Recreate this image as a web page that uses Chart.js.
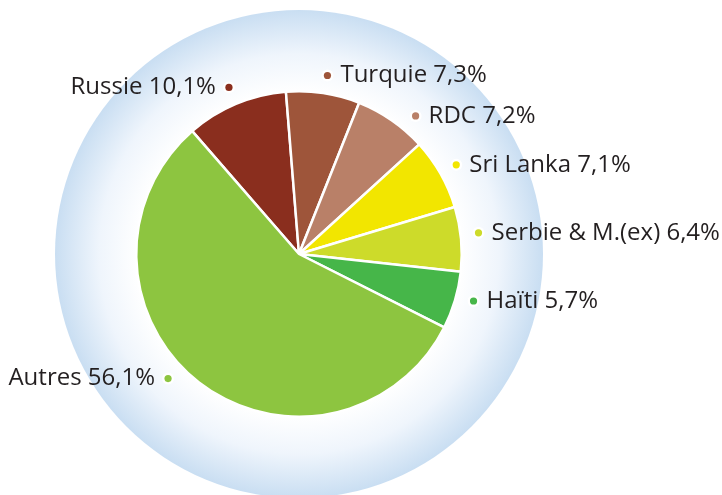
<!DOCTYPE html>
<html><head><meta charset="utf-8">
<script src="https://cdn.jsdelivr.net/npm/chart.js@4"></script>
<style>html,body{margin:0;padding:0;background:#fff}#wrap{width:722px;height:495px}</style>
</head><body><div id="wrap"><canvas id="c" width="722" height="495"></canvas></div>
<script>
const categories = ["Russie", "Turquie", "RDC", "Sri Lanka", "Serbie & M.(ex)", "Haïti", "Autres"];
const shares = [10.1, 7.3, 7.2, 7.1, 6.4, 5.7, 56.1];
const valueLabels = ["10,1%", "7,3%", "7,2%", "7,1%", "6,4%", "5,7%", "56,1%"];
const sliceColors = ["#8a2e1e", "#9e553a", "#b98068", "#f2e600", "#cddb2a", "#46b649", "#8dc540"];
const labelNudgeDeg = [0, 0.5, 5.5, 0, -1.5, -1.5, 8.5];

const FONT = '"Open Sans", "Noto Sans", sans-serif';

const backdrop = {
  id: 'backdrop',
  beforeDatasetsDraw(chart) {
    const arc = chart.getDatasetMeta(0).data[0];
    if (!arc) return;
    const {ctx} = chart;
    const cx = arc.x, cy = arc.y, R = 244;
    const g = ctx.createRadialGradient(cx, cy, 0, cx, cy, R);
    g.addColorStop(0, '#ffffff');
    g.addColorStop(0.66, '#ffffff');
    g.addColorStop(0.82, '#eff5fc');
    g.addColorStop(1, '#c9def2');
    ctx.save();
    ctx.beginPath();
    ctx.arc(cx, cy, R, 0, Math.PI * 2);
    ctx.fillStyle = g;
    ctx.fill();
    ctx.restore();
  }
};

const outLabels = {
  id: 'outLabels',
  afterDatasetsDraw(chart) {
    const {ctx} = chart;
    const meta = chart.getDatasetMeta(0);
    ctx.save();
    meta.data.forEach((arc, i) => {
      const mid = (arc.startAngle + arc.endAngle) / 2 + labelNudgeDeg[i] * Math.PI / 180;
      const r = arc.outerRadius + 18;
      const x = arc.x + Math.cos(mid) * r;
      const y = arc.y + Math.sin(mid) * r;
      ctx.beginPath();
      ctx.arc(x, y, 6, 0, Math.PI * 2);
      ctx.fillStyle = '#ffffff';
      ctx.fill();
      ctx.beginPath();
      ctx.arc(x, y, 3.6, 0, Math.PI * 2);
      ctx.fillStyle = sliceColors[i];
      ctx.fill();
      ctx.font = '24px ' + FONT;
      ctx.fillStyle = '#231f20';
      ctx.textBaseline = 'middle';
      const text = categories[i] + ' ' + valueLabels[i];
      if (x < arc.x) {
        ctx.textAlign = 'right';
        ctx.fillText(text, x - 13, y);
      } else {
        ctx.textAlign = 'left';
        ctx.fillText(text, x + 13, y);
      }
    });
    ctx.restore();
  }
};

new Chart(document.getElementById('c'), {
  type: 'pie',
  data: {
    labels: categories,
    datasets: [{
      data: shares,
      backgroundColor: sliceColors,
      borderColor: '#ffffff',
      borderWidth: 2.5
    }]
  },
  options: {
    responsive: false,
    animation: false,
    rotation: -41,
    layout: {padding: {left: 135, right: 259, top: 90, bottom: 77}},
    plugins: {legend: {display: false}, tooltip: {enabled: false}}
  },
  plugins: [backdrop, outLabels]
});
</script>
</body></html>
